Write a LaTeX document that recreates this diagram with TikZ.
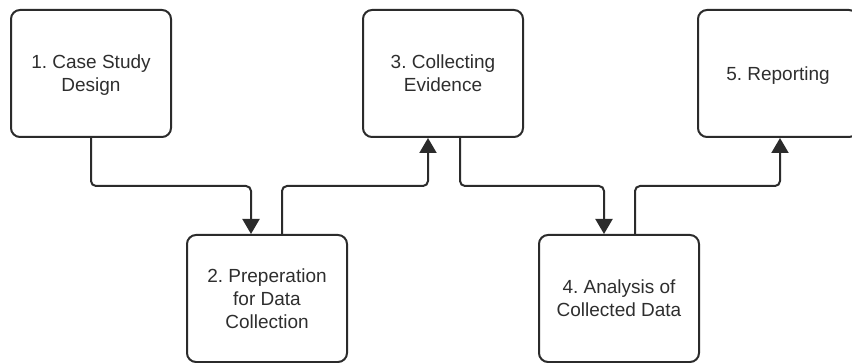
\documentclass[tikz,border=0pt]{standalone}
\usepackage{fontspec}
\setmainfont{Liberation Sans}
\usetikzlibrary{arrows.meta, calc}
\frenchspacing
\definecolor{linegray}{HTML}{2B2B2B}
\definecolor{textgray}{HTML}{2E2E2E}
\tikzstyle{stage} = [rectangle, rounded corners=9pt, minimum width=160pt, minimum height=127pt, align=center, text depth=-2pt, draw=linegray, line width=2pt, text=textgray, font=\fontsize{19}{23}\selectfont]
\tikzstyle{arrow} = [line width=2pt, draw=linegray, rounded corners=5pt, -{Triangle[width=17pt,length=15pt]}]

\begin{document}
\begin{tikzpicture}[node distance=176pt, x=1pt, y=1pt]
    \useasboundingbox (0,0) rectangle (852,362);
    \node (design) [stage] at (91,288.5) {1. Case Study\\Design};
    \node (prep) [stage, right of=design, yshift=-225pt] {2. Preperation\\for Data\\Collection};
    \node (collect) [stage, right of=prep, yshift=225pt] {3. Collecting\\Evidence};
    \node (analysis) [stage, right of=collect, yshift=-225pt] {4. Analysis of\\Collected Data};
    \node (report) [stage, right of=analysis, xshift=-17pt, yshift=225pt] {5. Reporting};

    \coordinate (level) at ($(design.south)!0.5!(prep.north)$);
    \coordinate (prep in) at ($(prep.north)+(-16pt,0)$);
    \coordinate (prep out) at ($(prep.north)+(15pt,0)$);
    \coordinate (collect in) at ($(collect.south)+(-15pt,0)$);
    \coordinate (collect out) at ($(collect.south)+(17pt,0)$);
    \coordinate (analysis in) at ($(analysis.north)+(-15pt,0)$);
    \coordinate (analysis out) at ($(analysis.north)+(16pt,0)$);
    \coordinate (report in) at ($(report.south)+(2pt,0)$);

    \draw [arrow] (design.south) -- (design.south |- level) -| (prep in);
    \draw [arrow] (prep out) -- (prep out |- level) -| (collect in);
    \draw [arrow] (collect out) -- (collect out |- level) -| (analysis in);
    \draw [arrow] (analysis out) -- (analysis out |- level) -| (report in);

\end{tikzpicture}
\end{document}
